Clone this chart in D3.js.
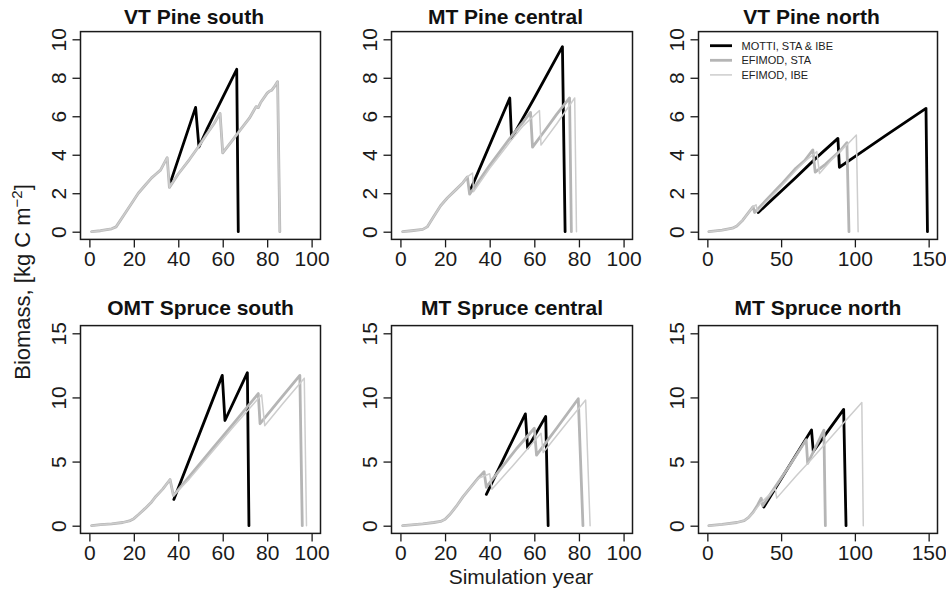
<!DOCTYPE html>
<html>
<head>
<meta charset="utf-8">
<script src="https://cdn.jsdelivr.net/npm/d3@7"></script>
<style>
  html, body { margin: 0; padding: 0; background: #fff; }
  svg { display: block; }
</style>
</head>
<body>
<svg id="chart" width="946" height="598"></svg>
<script>
// ---------------- DATA (year, biomass kg C m^-2) ----------------
const seriesNames = ["MOTTI, STA & IBE", "EFIMOD, STA", "EFIMOD, IBE"];
const panelTitles = ["VT Pine south", "MT Pine central", "VT Pine north",
                     "OMT Spruce south", "MT Spruce central", "MT Spruce north"];
const xTicksShort = [0, 20, 40, 60, 80, 100];
const xTicksLong  = [0, 50, 100, 150];
const yTicksPine   = [0, 2, 4, 6, 8, 10];
const yTicksSpruce = [0, 5, 10, 15];

// VT Pine south
const vtPineSouthMOTTI = [[36.6,2.6],[47.8,6.46],[49.3,4.4],[52.8,5.3],[66.3,8.44],[67,0]];
const vtPineSouthSTA = [[1,0],[5,0.05],[10,0.15],[12,0.25],[16,0.95],[20,1.65],[22,2.0],[25,2.4],[28,2.8],[30,3.0],[32,3.2],[35,3.85],[36,2.3],[40,3.0],[45,3.75],[49,4.4],[53,5.1],[56,5.6],[58.8,6.15],[60,4.1],[64,4.7],[68,5.3],[72,5.9],[74,6.3],[75,6.5],[76,6.45],[77,6.7],[80,7.2],[81,7.3],[82,7.35],[83,7.5],[84.7,7.8],[85.7,0]];
const vtPineSouthIBE = [[1,0],[5,0.05],[10,0.15],[12,0.25],[16,0.95],[20,1.65],[22,2.0],[25,2.4],[28,2.8],[30,3.0],[32,3.2],[35,3.85],[36,2.3],[40,3.0],[45,3.75],[49,4.4],[53,5.1],[56,5.6],[58.8,6.15],[60,4.1],[64,4.7],[68,5.3],[72,5.9],[74,6.3],[75,6.5],[76,6.45],[77,6.7],[80,7.2],[81,7.3],[82,7.35],[83,7.5],[84.7,7.8],[85.7,0]];

// MT Pine central
const mtPineCentralMOTTI = [[31.5,2.2],[49,6.95],[49.8,4.85],[60,6.95],[72.6,9.62],[73.8,0]];
const mtPineCentralSTA = [[1,0],[5,0.05],[10,0.12],[12,0.25],[15,0.8],[18,1.35],[21,1.75],[25,2.2],[28,2.55],[30,2.85],[31,1.95],[40,3.45],[50,5.0],[55,5.7],[58.3,6.2],[59.2,4.4],[65,5.3],[70,6.1],[75.8,6.95],[76.6,0]];
const mtPineCentralIBE = [[1,0],[5,0.05],[10,0.12],[12,0.25],[15,0.8],[18,1.35],[21,1.75],[25,2.2],[28,2.55],[30,2.85],[32.3,3.05],[32.8,2.08],[40,3.3],[50,4.8],[55,5.5],[62.3,6.3],[63,4.5],[70,5.6],[78.1,6.95],[78.9,0]];

// VT Pine north
const vtPineNorthMOTTI = [[34.5,1.0],[50,2.1],[60,2.82],[74,3.85],[88.5,4.85],[89.5,3.35],[100,3.9],[120,4.95],[148.2,6.41],[149.2,0]];
const vtPineNorthSTA = [[1,0],[10,0.08],[17,0.18],[20,0.3],[24,0.6],[28,1.0],[31,1.3],[32,1.0],[40,1.65],[50,2.45],[60,3.3],[66,3.7],[71.5,4.25],[73.1,3.1],[80,3.5],[85,3.85],[90,4.2],[94.6,4.63],[96,0]];
const vtPineNorthIBE = [[1,0],[10,0.08],[17,0.18],[20,0.3],[24,0.6],[28,1.0],[31,1.3],[33,1.4],[34,1.05],[40,1.55],[50,2.35],[60,3.2],[66,3.65],[74.2,4.16],[76,3.03],[85,3.8],[95,4.55],[101,5.03],[102.2,0]];

// OMT Spruce south
const omtSpruceSouthMOTTI = [[38,2.05],[59.8,11.72],[61,8.2],[71.1,11.93],[71.8,0]];
const omtSpruceSouthSTA = [[1,0],[5,0.08],[10,0.15],[15,0.25],[18,0.37],[20,0.55],[22,0.85],[25,1.33],[28,1.85],[30,2.3],[33,2.85],[36.3,3.6],[37.8,2.35],[45,3.85],[55,5.93],[65,8.0],[76,10.3],[76.8,7.95],[85,9.7],[94.7,11.72],[95.8,0]];
const omtSpruceSouthIBE = [[1,0],[5,0.08],[10,0.15],[15,0.25],[18,0.37],[20,0.55],[22,0.85],[25,1.33],[28,1.85],[30,2.3],[33,2.85],[36.3,3.6],[37.8,2.35],[45,3.65],[55,5.7],[65,7.75],[77.5,10.2],[78.9,7.8],[87,9.5],[96.7,11.5],[97.7,0]];

// MT Spruce central
const mtSpruceCentralMOTTI = [[38.5,2.45],[56,8.72],[57,6.05],[65.1,8.52],[66.2,0]];
const mtSpruceCentralSTA = [[1,0],[5,0.07],[10,0.15],[15,0.25],[18,0.33],[20,0.5],[22,0.85],[25,1.5],[28,2.25],[32,3.1],[35,3.75],[37.5,4.2],[38.5,3.0],[45,4.45],[52,6.0],[60,7.6],[61,5.5],[70,7.6],[79.7,9.9],[81.8,0]];
const mtSpruceCentralIBE = [[1,0],[5,0.07],[10,0.15],[15,0.25],[18,0.33],[20,0.5],[22,0.85],[25,1.5],[28,2.25],[32,3.1],[35,3.7],[40,4.05],[41,2.85],[50,4.6],[63,7.2],[64,5.7],[75,8.1],[83,9.8],[85,0]];

// MT Spruce north
const mtSpruceNorthMOTTI = [[38.3,1.45],[50,3.64],[70.6,7.47],[71.8,5.8],[80,7.1],[92.4,9.07],[94,0]];
const mtSpruceNorthSTA = [[1,0],[10,0.1],[20,0.25],[25,0.4],[28,0.65],[31,1.05],[34,1.6],[36.5,2.15],[37.5,1.55],[45,2.85],[55,4.55],[67,6.7],[68,4.85],[79,7.45],[80,0]];
const mtSpruceNorthIBE = [[1,0],[10,0.1],[20,0.25],[25,0.4],[28,0.65],[31,1.0],[36,1.75],[42,2.4],[46,2.9],[47,2.15],[60,3.85],[70,5.1],[85,7.05],[95,8.35],[104.7,9.6],[105.7,0]];

// ---------------- LAYOUT ----------------
const FONT = "'Liberation Sans', Arial, Helvetica, sans-serif";
const cols = [{L:80.5, R:320.5}, {L:391.5, R:632.5}, {L:698.5, R:937.5}];
const rows = [{T:31.6, B:239.4, titleY:23.5}, {T:325.6, B:533.4, titleY:315}];

const panels = [
  {col:0,row:0,xMax:100,xTicks:xTicksShort,yMax:10,yTicks:yTicksPine,data:[vtPineSouthMOTTI,vtPineSouthSTA,vtPineSouthIBE]},
  {col:1,row:0,xMax:100,xTicks:xTicksShort,yMax:10,yTicks:yTicksPine,data:[mtPineCentralMOTTI,mtPineCentralSTA,mtPineCentralIBE]},
  {col:2,row:0,xMax:150,xTicks:xTicksLong,yMax:10,yTicks:yTicksPine,data:[vtPineNorthMOTTI,vtPineNorthSTA,vtPineNorthIBE],legend:true},
  {col:0,row:1,xMax:100,xTicks:xTicksShort,yMax:15,yTicks:yTicksSpruce,data:[omtSpruceSouthMOTTI,omtSpruceSouthSTA,omtSpruceSouthIBE]},
  {col:1,row:1,xMax:100,xTicks:xTicksShort,yMax:15,yTicks:yTicksSpruce,data:[mtSpruceCentralMOTTI,mtSpruceCentralSTA,mtSpruceCentralIBE]},
  {col:2,row:1,xMax:150,xTicks:xTicksLong,yMax:15,yTicks:yTicksSpruce,data:[mtSpruceNorthMOTTI,mtSpruceNorthSTA,mtSpruceNorthIBE]}
];
panels.forEach((p,i) => p.title = panelTitles[i]);

const styles = [
  {color:"#000000", width:2.8},
  {color:"#b5b5b5", width:2.8},
  {color:"#cdcdcd", width:1.5}
];

const svg = d3.select("#chart");
svg.append("rect").attr("width",946).attr("height",598).attr("fill","#fff");

panels.forEach(p => {
  const c = cols[p.col], r = rows[p.row];
  const xPad = p.xMax * 0.04, yPad = p.yMax * 0.04;
  const x = d3.scaleLinear().domain([-xPad, p.xMax + xPad]).range([c.L, c.R]);
  const y = d3.scaleLinear().domain([-yPad, p.yMax + yPad]).range([r.B, r.T]);
  const g = svg.append("g");

  // lines
  const line = d3.line().x(d => x(d[0])).y(d => y(d[1]));
  p.data.forEach((ser, k) => {
    g.append("path").datum(ser)
      .attr("d", line)
      .attr("fill","none")
      .attr("stroke", styles[k].color)
      .attr("stroke-width", styles[k].width)
      .attr("stroke-linejoin","round")
      .attr("stroke-linecap","round");
  });

  // box
  g.append("rect").attr("x",c.L).attr("y",r.T).attr("width",c.R-c.L).attr("height",r.B-r.T)
    .attr("fill","none").attr("stroke","#1a1a1a").attr("stroke-width",1.5);

  // x axis
  const xa = g.append("g").attr("transform",`translate(0,${r.B})`)
    .call(d3.axisBottom(x).tickValues(p.xTicks).tickFormat(d3.format("d")).tickSize(8).tickSizeOuter(0));
  xa.select(".domain").remove();
  xa.selectAll(".tick line").attr("stroke","#1a1a1a").attr("stroke-width",1.3);
  xa.selectAll(".tick text").attr("y",27).attr("dy",null)
    .attr("font-family",FONT).attr("font-size",21).attr("fill","#1a1a1a");

  // y axis
  const ya = g.append("g").attr("transform",`translate(${c.L},0)`)
    .call(d3.axisLeft(y).tickValues(p.yTicks).tickFormat(d3.format("d")).tickSize(8).tickSizeOuter(0));
  ya.select(".domain").remove();
  ya.selectAll(".tick line").attr("stroke","#1a1a1a").attr("stroke-width",1.3);
  ya.selectAll(".tick text").attr("x",null).attr("dy",null)
    .attr("text-anchor","middle")
    .attr("transform","translate(-14.5,0) rotate(-90)")
    .attr("font-family",FONT).attr("font-size",21).attr("fill","#1a1a1a");

  // title
  g.append("text")
    .attr("x",(c.L+c.R)/2 - (p.row===0 ? 6.5 : 0)).attr("y",r.titleY)
    .attr("text-anchor","middle").attr("font-family",FONT)
    .attr("font-size",21).attr("font-weight","bold").attr("fill","#111")
    .text(p.title);

  // legend
  if (p.legend) {
    const lg = g.append("g");
    seriesNames.forEach((nm, k) => {
      const yy = 45.7 + k*14.6;
      lg.append("line").attr("x1",710).attr("x2",732).attr("y1",yy).attr("y2",yy)
        .attr("stroke",styles[k].color).attr("stroke-width",styles[k].width);
      lg.append("text").attr("x",741.5).attr("y",yy+4)
        .attr("font-family",FONT).attr("font-size",11).attr("fill","#222").text(nm);
    });
  }
});

// axis titles
const yl = svg.append("text")
  .attr("transform","translate(30,282) rotate(-90)")
  .attr("text-anchor","middle").attr("font-family",FONT).attr("font-size",22).attr("fill","#1a1a1a");
yl.append("tspan").text("Biomass, [kg C m");
yl.append("tspan").attr("font-size",15).attr("dy",-8).text("\u22122");
yl.append("tspan").attr("dy",8).text("]");

svg.append("text").attr("x",521).attr("y",584)
  .attr("text-anchor","middle").attr("font-family",FONT).attr("font-size",21).attr("fill","#1a1a1a")
  .text("Simulation year");
</script>
</body>
</html>
